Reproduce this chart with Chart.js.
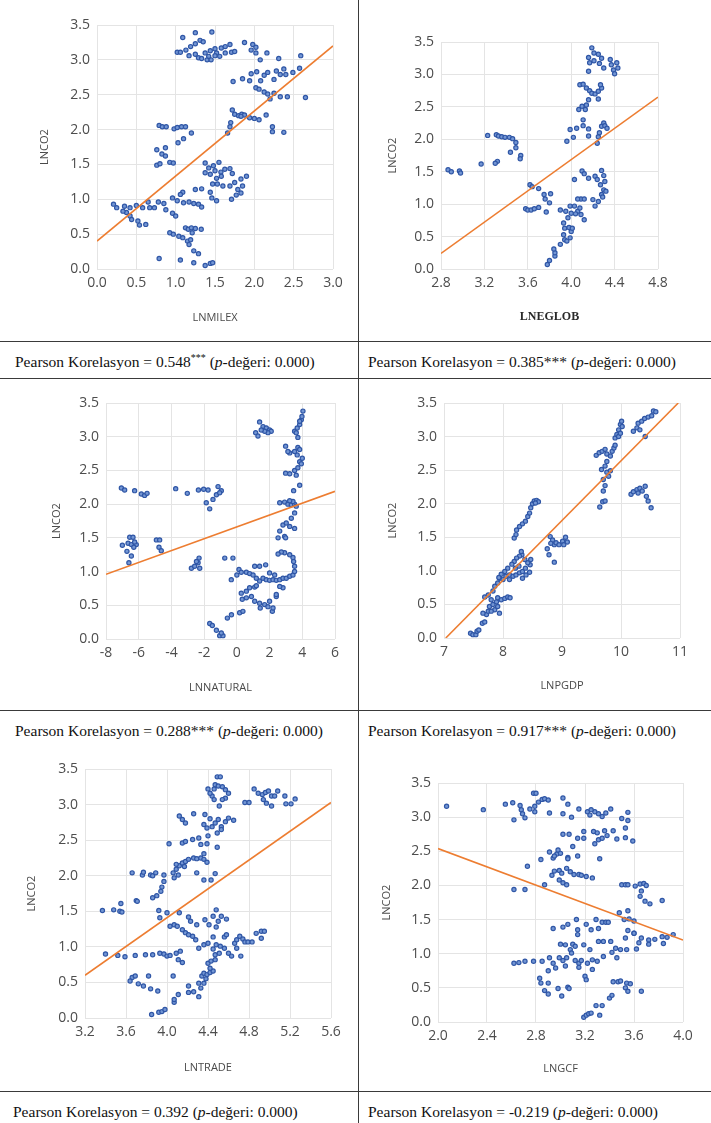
<!DOCTYPE html>
<html>
<head>
<meta charset="utf-8">
<script src="https://cdn.jsdelivr.net/npm/chart.js@4.4.1/dist/chart.umd.min.js"></script>
<style>
  body { margin: 0; background: #fff; }
  #page { position: relative; width: 711px; height: 1123px; overflow: hidden; background: #fff; }
  .cell { position: absolute; }
  .rule { position: absolute; background: #3a3a3a; }
  .cap { position: absolute; font-family: "Liberation Serif", "Times New Roman", serif; font-size: 15.5px; line-height: 18px; color: #111; white-space: nowrap; }
  .cap sup { font-size: 10px; vertical-align: 6px; line-height: 0; }
</style>
</head>
<body>
<div id="page"></div>
<script>
// y axis is the same for every panel
const co2Ticks = [0, 0.5, 1, 1.5, 2, 2.5, 3, 3.5];

// LNMILEX vs LNCO2
const milexTicks = [0, 0.5, 1, 1.5, 2, 2.5, 3];
const milexFit = [[0, 0.40], [3, 3.20]];
const milexPts = [
  [1.09,3.32],[1.25,3.39],[1.46,3.40],[1.02,3.11],[1.06,3.11],[1.13,3.14],[1.19,3.19],[1.25,3.23],[1.31,3.28],[1.35,3.26],
  [1.17,3.06],[1.25,3.08],[1.29,3.03],[1.33,3.02],[1.40,3.00],[1.45,3.00],[1.375,3.10],[1.44,3.13],[1.50,3.16],[1.52,3.10],
  [1.58,3.17],[1.63,3.19],[1.69,3.22],[1.63,3.10],[1.71,3.11],[1.75,3.12],[1.875,3.25],[1.98,3.22],[2.02,3.18],[1.96,3.14],
  [2.02,3.10],[2.16,3.10],[2.075,3.00],[2.31,3.02],[2.59,3.06],[1.50,3.06],[1.56,3.05],[1.42,3.05],
  [1.73,2.69],[1.85,2.73],[1.94,2.70],[1.96,2.80],[2.03,2.83],[2.08,2.70],[2.125,2.78],[2.17,2.82],[2.25,2.72],[2.28,2.84],
  [2.33,2.79],[2.375,2.87],[2.40,2.79],[2.49,2.82],[2.575,2.88],[2.02,2.60],[2.06,2.58],[2.125,2.54],[2.17,2.51],[2.20,2.44],
  [2.25,2.52],[2.33,2.47],[2.42,2.47],[2.65,2.46],
  [1.72,2.28],[1.75,2.22],[1.80,2.20],[1.84,2.22],[1.875,2.21],[1.94,2.17],[2.00,2.16],[2.06,2.14],[1.70,2.10],[1.69,2.04],
  [1.66,1.95],[2.15,2.21],[2.23,2.04],[2.23,1.97],[2.375,1.96],[1.83,2.19],
  [0.79,2.06],[0.83,2.04],[0.88,2.04],[0.98,2.01],[1.02,2.03],[1.075,2.04],[1.125,2.04],[1.20,1.95],[1.10,1.87],[1.03,1.81],
  [0.76,1.71],[0.87,1.74],[0.825,1.65],[0.87,1.62],[0.76,1.49],[0.80,1.51],[0.925,1.53],[0.97,1.52],
  [1.375,1.52],[1.42,1.45],[1.48,1.48],[1.55,1.53],[1.375,1.38],[1.44,1.36],[1.50,1.41],[1.575,1.39],[1.625,1.43],[1.69,1.44],
  [1.72,1.37],[1.52,1.30],[1.58,1.33],[1.47,1.22],[1.53,1.22],[1.60,1.19],[1.69,1.19],[1.75,1.24],[1.83,1.29],[1.90,1.33],
  [1.79,1.14],[1.83,1.09],[1.85,1.19],[1.77,1.06],[1.71,1.00],[1.44,1.10],[1.46,1.02],[1.52,0.98],[1.25,1.14],[1.33,1.15],
  [1.09,1.10],[1.06,1.07],
  [0.21,0.93],[0.25,0.88],[0.35,0.90],[0.42,0.88],[0.50,0.91],[0.58,0.88],[0.65,0.96],[0.67,0.88],[0.73,0.88],[0.78,0.96],
  [0.85,0.94],[0.875,0.85],[0.96,1.02],[1.02,0.98],[1.10,0.95],[1.17,0.96],[1.23,0.94],[1.29,0.93],[1.33,0.89],[0.375,0.81],
  [0.42,0.76],[0.44,0.71],[0.52,0.69],[0.54,0.63],[0.62,0.64],[0.33,0.83],
  [0.96,0.80],[1.00,0.76],[0.925,0.52],[0.97,0.50],[1.04,0.47],[1.09,0.45],[1.125,0.59],[1.16,0.57],[1.20,0.59],[1.25,0.58],
  [1.325,0.57],[1.15,0.40],[1.19,0.42],[1.21,0.52],[1.17,0.35],[1.23,0.26],[1.29,0.22],[0.79,0.15],[1.06,0.13],[1.23,0.09],
  [1.375,0.05],[1.44,0.08],[1.47,0.09]
];

// LNEGLOB vs LNCO2
const eglobTicks = [2.8, 3.2, 3.6, 4.0, 4.4, 4.8];
const eglobFit = [[2.8, 0.24], [4.8, 2.65]];
const eglobPts = [
  [2.865,1.53],[2.895,1.50],[2.97,1.51],[2.98,1.48],[3.17,1.62],[3.23,2.06],[3.31,2.07],[3.33,2.05],[3.36,2.04],[3.39,2.03],
  [3.43,2.03],[3.46,2.01],[3.49,1.95],[3.49,1.87],[3.44,1.80],[3.535,1.75],[3.53,1.70],[3.32,1.66],[3.30,1.63],
  [3.62,1.30],[3.64,1.27],[3.70,1.24],[3.75,1.15],[3.76,1.08],[3.81,1.16],[3.80,1.02],[3.58,0.93],[3.60,0.91],[3.63,0.91],
  [3.66,0.93],[3.70,0.95],[3.77,0.88],
  [3.78,0.07],[3.80,0.13],[3.85,0.20],[3.85,0.25],[3.84,0.31],[3.90,0.38],[3.94,0.45],[3.96,0.43],[3.93,0.53],[3.99,0.48],
  [4.00,0.58],[3.94,0.63],[3.98,0.64],[4.01,0.63],[3.93,0.71],[3.97,0.79],[3.95,0.89],[3.90,0.91],[3.99,0.97],[4.03,0.97],
  [4.06,0.89],[4.09,0.84],[4.04,0.85],[4.00,0.86],[4.08,0.94],[4.09,1.08],[4.06,1.08],[4.12,1.08],[4.12,0.76],
  [4.03,1.38],[4.10,1.51],[4.12,1.47],[4.16,1.40],[4.22,1.43],[4.24,1.38],[4.28,1.52],[4.30,1.44],[4.31,1.35],[4.30,1.22],
  [4.32,1.20],[4.28,1.15],[4.25,1.04],[4.22,0.97],[4.20,1.07],[4.29,1.11],[4.27,1.30],
  [3.96,1.97],[3.99,2.15],[4.02,2.03],[4.05,2.17],[4.11,2.21],[4.11,2.30],[4.16,2.16],[4.16,2.05],[4.24,1.94],[4.25,2.04],
  [4.26,2.10],[4.28,2.20],[4.30,2.25],[4.31,2.21],[4.33,2.17],
  [4.07,2.46],[4.10,2.51],[4.13,2.46],[4.14,2.53],[4.16,2.61],[4.08,2.84],[4.11,2.85],[4.14,2.79],[4.17,2.75],[4.19,2.71],
  [4.22,2.70],[4.25,2.74],[4.28,2.79],[4.27,2.84],[4.25,2.62],[4.16,3.05],[4.19,3.41],[4.21,3.33],[4.16,3.26],[4.17,3.18],
  [4.21,3.21],[4.25,3.31],[4.28,3.25],[4.26,3.17],[4.30,3.10],[4.36,3.23],[4.37,3.15],[4.39,3.07],[4.40,3.01],[4.42,3.18],
  [4.43,3.10]
];

// LNNATURAL vs LNCO2
const naturalTicks = [-8, -6, -4, -2, 0, 2, 4, 6];
const naturalFit = [[-8, 0.96], [6, 2.19]];
const naturalPts = [
  [-7.06,2.24],[-6.86,2.21],[-6.25,2.20],[-5.84,2.15],[-5.64,2.13],[-5.49,2.16],
  [-7.0,1.39],[-6.55,1.51],[-6.35,1.51],[-6.65,1.42],[-6.45,1.40],[-6.15,1.40],[-6.25,1.44],[-6.72,1.30],[-6.45,1.23],[-6.6,1.13],
  [-6.3,1.36],[-4.92,1.47],[-4.72,1.47],[-4.76,1.36],[-4.62,1.31],
  [-3.74,2.23],[-3.03,2.16],[-2.35,2.21],[-2.03,2.22],[-1.76,2.21],[-1.15,2.26],[-0.95,2.20],[-1.25,2.14],[-1.46,2.07],[-1.87,2.02],
  [-1.66,1.93],[-1.05,2.17],
  [-2.78,1.05],[-2.58,1.08],[-2.37,1.13],[-2.31,1.20],[-2.47,1.15],[-2.27,1.05],
  [-1.66,0.23],[-1.5,0.20],[-1.25,0.13],[-1.05,0.05],[-0.85,0.05],[-0.95,0.09],
  [-0.58,0.31],[-0.33,0.36],[0.17,0.39],[0.37,0.41],[-0.74,1.20],[-0.24,1.20],
  [-0.34,0.88],[0.0,0.95],[0.13,1.03],[0.27,0.99],[0.58,0.99],[0.78,0.97],[1.09,1.08],[1.39,1.08],[1.76,1.10],[0.27,0.68],
  [0.58,0.71],[0.78,0.76],[1.09,0.77],[0.33,0.59],[0.58,0.61],[0.89,0.63],[1.09,0.56],[1.39,0.53],[1.43,0.46],[1.70,0.51],
  [1.90,0.48],[2.17,0.41],[2.21,0.46],[2.41,0.63],[2.0,0.56],[1.19,0.79],[1.39,0.86],[1.60,0.90],[1.80,0.88],[2.0,0.87],
  [2.21,0.88],[2.41,0.87],[2.62,0.88],[2.82,0.90],[3.02,0.90],[3.23,0.93],[3.43,0.95],[3.53,1.0],[3.53,1.08],[3.47,1.15],
  [3.43,1.21],[3.23,1.25],[2.92,1.28],[2.72,1.29],[2.52,1.26],[2.82,0.76],[2.62,0.78],[1.19,0.90],[0.99,0.95],[2.0,0.98],
  [2.31,0.95],[2.41,0.66],
  [2.52,1.50],[2.62,1.60],[2.92,1.52],[2.98,1.50],[2.82,1.69],[3.02,1.72],[3.23,1.67],[3.53,1.64],[3.33,1.79],[3.53,1.87],
  [2.62,2.02],[2.92,2.03],[3.12,2.0],[3.33,1.99],[3.53,2.0],[3.63,1.97],[3.43,2.04],[3.23,2.05],[3.47,2.20],[3.84,2.28],
  [2.98,2.46],[3.23,2.45],[3.53,2.50],[3.63,2.43],[3.73,2.54],[3.84,2.63],[3.94,2.60],[4.0,2.68],[3.69,2.73],[3.53,2.78],
  [3.23,2.76],[2.98,2.86],[3.12,2.78],[3.73,2.84],[3.84,2.81],[3.53,3.08],[3.69,3.13],[3.84,3.18],[3.94,3.25],[4.04,3.38],
  [3.98,3.30],[3.84,3.23],[3.63,3.06],[3.73,2.99],
  [1.15,3.06],[1.29,3.01],[1.39,3.22],[1.60,3.15],[1.80,3.13],[2.0,3.10],[2.10,3.08],[1.90,3.06],[1.70,3.08],[1.49,3.10]
];

// LNPGDP vs LNCO2
const pgdpTicks = [7, 8, 9, 10, 11];
const pgdpFit = [[7.03, 0], [10.97, 3.5]];
const pgdpPts = [
  [7.45,0.07],[7.49,0.05],[7.54,0.05],[7.56,0.10],[7.59,0.12],
  [7.65,0.22],[7.69,0.24],[7.72,0.35],[7.75,0.40],[7.77,0.47],[7.83,0.50],[7.86,0.42],[7.80,0.57],[7.89,0.54],[7.91,0.60],
  [7.97,0.57],[8.03,0.59],[8.08,0.61],[8.12,0.60],[7.69,0.61],[7.75,0.64],[7.66,0.37],[7.80,0.40],[7.91,0.47],[7.94,0.37],
  [7.83,0.70],
  [7.86,0.77],[7.91,0.82],[7.94,0.89],[8.0,0.87],[8.05,0.92],[8.11,0.94],[8.17,0.92],[8.22,0.94],[8.28,0.97],[8.33,0.99],
  [8.39,0.94],[8.45,0.98],[8.46,1.09],[8.42,1.12],[8.37,1.17],[8.32,1.24],[8.31,1.29],[8.28,1.22],[8.23,1.19],[8.19,1.14],
  [8.15,1.10],[8.21,1.04],[8.27,1.07],[8.08,1.04],[8.03,0.99],[7.97,0.95],[7.93,0.90],[8.11,0.87],[8.33,0.89],[8.38,1.04],
  [8.47,1.17],
  [8.19,1.49],[8.22,1.54],[8.23,1.61],[8.28,1.66],[8.33,1.70],[8.38,1.74],[8.42,1.81],[8.45,1.86],[8.47,1.94],[8.50,2.0],
  [8.53,2.04],[8.57,2.05],[8.60,2.03],[8.55,2.01],
  [8.75,1.33],[8.80,1.51],[8.84,1.46],[8.87,1.39],[8.90,1.42],[8.78,1.24],[8.87,1.13],[8.95,1.39],[9.01,1.44],[9.06,1.50],
  [9.09,1.43],[9.03,1.39],[8.81,1.41],
  [9.64,1.95],[9.69,2.03],[9.73,2.04],[9.70,2.19],[9.73,2.27],[9.70,2.36],[9.67,2.51],[9.76,2.47],[9.79,2.41],[9.82,2.49],
  [9.58,2.72],[9.63,2.76],[9.68,2.78],[9.73,2.81],[9.76,2.74],[9.82,2.71],[9.85,2.78],[9.88,2.83],[9.90,2.87],[9.76,2.63],
  [9.73,2.56],[9.90,2.98],[9.93,3.03],[9.96,3.10],[9.99,3.18],[10.01,3.23],[9.96,3.00],[9.99,3.05],[10.02,3.15],[10.21,3.08],
  [10.27,3.13],[10.29,3.20],[10.35,3.23],[10.40,3.27],[10.46,3.29],[10.55,3.38],[10.59,3.37],[10.52,3.31],[10.41,3.0],[10.32,3.10],
  [10.17,2.14],[10.21,2.18],[10.27,2.21],[10.32,2.23],[10.41,2.26],[10.29,2.16],[10.36,2.19],[10.43,2.11],[10.46,2.04],[10.51,1.94]
];

// LNTRADE vs LNCO2
const tradeTicks = [3.2, 3.6, 4.0, 4.4, 4.8, 5.2, 5.6];
const tradeFit = [[3.2, 0.60], [5.6, 3.03]];
const tradePts = [
  [3.37,1.51],[3.48,1.52],[3.54,1.50],[3.56,1.49],[3.55,1.61],[3.70,1.65],[3.71,1.64],
  [3.40,0.90],[3.52,0.88],[3.59,0.86],[3.69,0.88],[3.79,0.89],[3.86,0.89],[3.93,0.91],[3.97,0.90],[4.0,0.87],[4.03,0.88],
  [4.09,0.91],[4.13,0.94],[4.15,0.78],[4.11,0.82],
  [3.66,0.57],[3.69,0.59],[3.64,0.52],[3.72,0.48],[3.77,0.45],[3.84,0.41],[3.91,0.38],[3.82,0.59],
  [3.85,0.05],[3.92,0.08],[3.95,0.09],[3.98,0.12],[4.07,0.22],[4.07,0.26],[4.11,0.33],[4.06,0.59],
  [4.21,0.45],[4.26,0.37],[4.21,0.36],[4.31,0.49],[4.34,0.59],[4.36,0.63],[4.39,0.61],[4.42,0.64],[4.45,0.66],[4.40,0.77],
  [4.43,0.80],[4.47,0.82],[4.47,0.89],[4.51,0.91],[4.42,0.70],[4.36,0.49],[4.38,0.55],[4.33,0.42],[4.31,0.30],[4.45,0.97],
  [4.48,1.03],[4.52,1.01],[4.56,0.98],[4.60,0.91],[4.63,0.87],[4.66,1.05],[4.68,1.10],[4.71,1.15],[4.74,1.11],[4.68,0.98],
  [4.72,0.87],[4.76,1.07],[4.79,1.07],[4.83,1.07],[4.87,1.19],[4.92,1.22],[4.95,1.22],[4.92,1.12],[4.56,1.14],[4.58,1.17],
  [3.92,1.51],[3.93,1.41],[4.0,1.48],[4.12,1.48],[4.03,1.29],[4.07,1.31],[4.10,1.29],[4.15,1.24],[4.18,1.20],[4.21,1.17],
  [4.25,1.15],[4.28,1.10],[4.21,1.42],[4.23,1.36],[4.29,1.31],[4.37,1.38],[4.41,1.31],[4.48,1.52],[4.45,1.43],[4.50,1.36],
  [4.53,1.43],[4.58,1.39],[4.48,1.28],[4.31,0.98],[4.36,1.03],[4.40,1.05],[4.45,1.14],
  [3.66,2.04],[3.76,2.01],[3.77,2.05],[3.84,2.01],[3.86,2.0],[3.89,2.04],[3.97,1.92],[3.97,2.01],[3.95,1.84],[3.94,1.78],
  [3.90,1.72],[3.86,1.69],[4.07,1.97],[4.11,2.01],[4.29,2.04],[4.36,1.94],[4.43,1.94],[4.47,2.03],
  [4.06,2.04],[4.09,2.09],[4.12,2.14],[4.15,2.18],[4.18,2.20],[4.21,2.23],[4.26,2.25],[4.29,2.24],[4.33,2.25],[4.36,2.23],
  [4.39,2.19],[4.36,2.31],[4.17,2.13],[4.09,2.16],
  [4.02,2.45],[4.15,2.46],[4.18,2.48],[4.25,2.51],[4.31,2.53],[4.40,2.56],[4.39,2.45],[4.49,2.40],[4.33,2.44],
  [4.12,2.84],[4.15,2.79],[4.18,2.74],[4.26,2.87],[4.37,2.86],[4.42,2.80],[4.36,2.72],[4.39,2.67],[4.44,2.69],[4.47,2.74],
  [4.50,2.79],[4.53,2.69],[4.57,2.76],[4.60,2.81],[4.65,2.78],[4.49,2.60],[4.53,2.65],
  [4.40,3.22],[4.46,3.22],[4.49,3.39],[4.52,3.39],[4.47,3.28],[4.50,3.26],[4.54,3.25],[4.57,3.21],[4.60,3.16],[4.57,3.09],
  [4.54,3.07],[4.51,2.98],[4.44,3.12],[4.42,3.16],[4.46,3.07],
  [4.76,3.03],[4.80,3.03],[4.85,3.22],[4.89,3.16],[4.93,3.14],[4.96,3.17],[4.99,3.19],[5.02,3.12],[5.05,3.12],[4.94,3.07],
  [4.97,3.02],[5.02,2.98],[5.08,3.19],[5.15,3.12],[5.16,3.01],[5.21,3.01],[5.25,3.08]
];

// LNGCF vs LNCO2
const gcfTicks = [2.0, 2.4, 2.8, 3.2, 3.6, 4.0];
const gcfFit = [[2.0, 2.54], [4.0, 1.20]];
const gcfPts = [
  [2.07,3.16],[2.37,3.11],[2.55,3.19],[2.61,3.21],[2.62,2.96],[2.67,3.17],[2.68,3.11],[2.69,3.05],[2.71,2.99],[2.75,3.12],
  [2.79,3.08],[2.79,3.16],[2.82,3.22],[2.85,3.26],[2.87,3.27],[2.90,3.25],[2.78,3.35],[2.80,3.35],[2.91,3.06],[3.02,3.28],
  [3.06,3.19],[3.02,3.05],[3.09,3.0],[3.15,3.12],[3.22,3.08],[3.24,3.03],[3.28,3.08],[3.31,3.05],[3.34,3.01],[3.37,3.06],
  [3.41,3.12],[3.50,2.98],[3.55,3.07],[3.55,2.95],[3.25,3.11],
  [3.02,2.75],[3.07,2.75],[3.14,2.69],[3.19,2.69],[3.19,2.79],[3.27,2.79],[3.30,2.77],[3.31,2.67],[3.34,2.69],[3.36,2.80],
  [3.38,2.73],[3.43,2.80],[3.46,2.68],[3.53,2.84],[3.53,2.70],[3.59,2.65],[3.28,2.61],[3.10,2.57],
  [2.91,2.49],[2.94,2.40],[2.97,2.46],[2.98,2.52],[3.0,2.47],[2.95,2.43],[3.06,2.41],[3.06,2.39],[3.14,2.43],[2.84,2.38],
  [3.32,2.39],[2.73,2.28],
  [2.93,2.15],[2.95,2.21],[2.99,2.22],[3.01,2.18],[3.05,2.25],[3.08,2.20],[3.11,2.16],[3.15,2.16],[3.21,2.13],[3.26,2.11],
  [2.99,2.08],[3.02,2.04],[3.05,2.01],[3.17,2.15],[2.87,2.01],[2.62,1.94],[2.71,1.94],
  [3.50,2.01],[3.53,2.01],[3.55,2.01],[3.61,1.99],[3.65,2.02],[3.68,2.03],[3.70,2.0],[3.66,1.92],[3.65,1.84],[3.69,1.77],
  [3.73,1.73],[3.83,1.78],
  [3.48,1.60],[3.55,1.63],[3.56,1.51],[3.52,1.50],[3.60,1.48],[3.60,1.30],[3.55,1.34],[3.66,1.23],[3.72,1.20],[3.77,1.21],
  [3.83,1.25],[3.87,1.24],[3.92,1.28],[3.84,1.15],[3.64,1.16],
  [2.94,1.37],[3.02,1.39],[3.06,1.43],[3.13,1.50],[3.14,1.35],[3.14,1.28],[3.21,1.43],[3.25,1.35],[3.29,1.50],[3.31,1.37],
  [3.34,1.46],[3.37,1.46],[3.39,1.46],
  [3.0,1.14],[3.04,1.13],[3.10,1.14],[3.12,1.11],[3.08,1.06],[3.09,1.01],[3.19,1.13],[3.24,1.06],[3.31,1.18],[3.35,1.18],
  [3.41,1.18],[3.35,0.96],[3.42,1.02],[3.45,1.08],[3.49,1.06],[3.54,1.06],[3.46,0.94],[3.53,1.23],[3.60,1.30],[3.62,1.07],
  [3.72,1.14],
  [2.62,0.86],[2.66,0.87],[2.71,0.89],[2.78,0.89],[2.85,0.89],[2.91,0.94],[2.94,0.86],[2.99,0.94],[3.02,0.90],[3.05,0.94],
  [3.12,0.90],[3.15,0.86],[3.17,0.90],[3.22,0.86],[3.26,0.91],[3.30,0.89],[2.96,0.79],[3.04,0.82],[3.15,0.80],[3.20,0.67],
  [3.21,0.62],[3.26,0.77],[2.90,0.75],[2.83,0.64],[2.84,0.57],
  [2.90,0.57],[2.87,0.46],[2.90,0.41],[2.98,0.49],[3.01,0.38],[3.06,0.51],[3.07,0.49],
  [3.19,0.07],[3.21,0.10],[3.23,0.12],[3.25,0.13],[3.29,0.24],[3.32,0.10],[3.34,0.24],[3.40,0.35],[3.42,0.39],[3.43,0.59],
  [3.47,0.59],[3.49,0.60],[3.54,0.57],[3.57,0.56],[3.53,0.50],[3.55,0.45],[3.66,0.45]
];

const page = document.getElementById('page');
const tickColor = '#4d4d4d';
const gridColor = '#e4e4e4';

// table rules
function rule(x, y, w, h) {
  const d = document.createElement('div');
  d.className = 'rule';
  Object.assign(d.style, { left: x + 'px', top: y + 'px', width: w + 'px', height: h + 'px' });
  page.appendChild(d);
}
rule(358, 0, 1, 1123);
rule(0, 341, 711, 1);
rule(0, 378, 711, 1);
rule(0, 710, 711, 1);
rule(0, 1091, 711, 1);

function caption(x, y, html) {
  const d = document.createElement('div');
  d.className = 'cap';
  d.style.left = x + 'px';
  d.style.top = (y - 9) + 'px';
  d.innerHTML = html;
  page.appendChild(d);
}
caption(15, 362, 'Pearson Korelasyon = 0.548<sup>***</sup> (<i>p</i>-değeri: 0.000)');
caption(368, 362, 'Pearson Korelasyon = 0.385*** (<i>p</i>-değeri: 0.000)');
caption(15, 731, 'Pearson Korelasyon = 0.288*** (<i>p</i>-değeri: 0.000)');
caption(368, 731, 'Pearson Korelasyon = 0.917*** (<i>p</i>-değeri: 0.000)');
caption(13, 1112, 'Pearson Korelasyon = 0.392 (<i>p</i>-değeri: 0.000)');
caption(368, 1112, 'Pearson Korelasyon = -0.219 (<i>p</i>-değeri: 0.000)');

// one scatter panel; cell = canvas box, plot = wanted chart area (page px)
function panel(opt) {
  const { cell, plot, xTitleY, yTitleX } = opt;
  const wrap = document.createElement('div');
  wrap.className = 'cell';
  Object.assign(wrap.style, { left: cell.x + 'px', top: cell.y + 'px', width: cell.w + 'px', height: cell.h + 'px' });
  const cv = document.createElement('canvas');
  cv.width = cell.w;
  cv.height = cell.h;
  cv.style.width = cell.w + 'px';
  cv.style.height = cell.h + 'px';
  wrap.appendChild(cv);
  page.appendChild(wrap);

  const titleSize = 11;
  const lh = titleSize * 1.2;
  const yW = plot.l - yTitleX + lh / 2;
  const xH = xTitleY - plot.b + lh / 2;
  const pad = {
    left: plot.l - cell.x - yW,
    right: cell.x + cell.w - plot.r,
    top: plot.t - cell.y,
    bottom: cell.y + cell.h - plot.b - xH
  };

  const xt = opt.xTicks;
  new Chart(cv, {
    type: 'scatter',
    data: {
      datasets: [
        {
          type: 'line',
          data: opt.fit.map(p => ({ x: p[0], y: p[1] })),
          borderColor: '#ed7d31',
          borderWidth: 1.6,
          pointRadius: 0,
          fill: false,
          order: 0
        },
        {
          data: opt.pts.map(p => ({ x: p[0], y: p[1] })),
          backgroundColor: '#7396d4',
          borderColor: '#2f56a6',
          borderWidth: 1.2,
          pointRadius: 2.1,
          order: 1
        }
      ]
    },
    options: {
      responsive: false,
      animation: false,
      layout: { padding: pad },
      plugins: { legend: { display: false }, tooltip: { enabled: false } },
      scales: {
        x: {
          type: 'linear',
          min: xt[0],
          max: xt[xt.length - 1],
          afterBuildTicks: a => { a.ticks = xt.map(v => ({ value: v })); },
          afterFit: a => { a.height = xH; },
          grid: { color: gridColor, drawTicks: false },
          border: { display: false },
          ticks: {
            color: tickColor,
            padding: 6,
            maxRotation: 0,
            font: { family: 'Open Sans', size: 14 },
            callback: v => opt.intX ? String(v) : v.toFixed(1)
          },
          title: {
            display: true,
            text: opt.xTitle,
            color: opt.xTitleFont ? '#2a2a2a' : '#4a4a4a',
            padding: 0,
            font: opt.xTitleFont || { family: 'Open Sans', size: titleSize }
          }
        },
        y: {
          type: 'linear',
          min: 0,
          max: 3.5,
          afterBuildTicks: a => { a.ticks = co2Ticks.map(v => ({ value: v })); },
          afterFit: a => { a.width = yW; },
          grid: { color: gridColor, drawTicks: false },
          border: { display: false },
          ticks: {
            color: tickColor,
            padding: 7,
            font: { family: 'Open Sans', size: 14 },
            callback: v => v.toFixed(1)
          },
          title: {
            display: true,
            text: 'LNCO2',
            color: '#4a4a4a',
            padding: 0,
            font: { family: 'Open Sans', size: titleSize }
          }
        }
      }
    }
  });
}

panel({ cell: { x: 0, y: 0, w: 357, h: 340 }, plot: { l: 97, r: 333, t: 25, b: 269 }, xTitleY: 318, yTitleX: 45,
  xTicks: milexTicks, pts: milexPts, fit: milexFit, xTitle: 'LNMILEX' });
panel({ cell: { x: 360, y: 0, w: 351, h: 340 }, plot: { l: 441, r: 658, t: 42, b: 269 }, xTitleY: 318, yTitleX: 393,
  xTicks: eglobTicks, pts: eglobPts, fit: eglobFit, xTitle: 'LNEGLOB',
  xTitleFont: { family: 'Liberation Serif', size: 12, weight: 'bold' } });
panel({ cell: { x: 0, y: 380, w: 357, h: 329 }, plot: { l: 106, r: 335, t: 403, b: 639 }, xTitleY: 688, yTitleX: 57,
  xTicks: naturalTicks, pts: naturalPts, fit: naturalFit, xTitle: 'LNNATURAL', intX: true });
panel({ cell: { x: 360, y: 380, w: 351, h: 329 }, plot: { l: 444, r: 680, t: 403, b: 638 }, xTitleY: 686, yTitleX: 393,
  xTicks: pgdpTicks, pts: pgdpPts, fit: pgdpFit, xTitle: 'LNPGDP', intX: true });
panel({ cell: { x: 0, y: 746, w: 357, h: 344 }, plot: { l: 85, r: 331, t: 769, b: 1018 }, xTitleY: 1068, yTitleX: 32,
  xTicks: tradeTicks, pts: tradePts, fit: tradeFit, xTitle: 'LNTRADE' });
panel({ cell: { x: 360, y: 746, w: 351, h: 344 }, plot: { l: 438, r: 683, t: 783, b: 1022 }, xTitleY: 1069, yTitleX: 387,
  xTicks: gcfTicks, pts: gcfPts, fit: gcfFit, xTitle: 'LNGCF' });
</script>
</body>
</html>
